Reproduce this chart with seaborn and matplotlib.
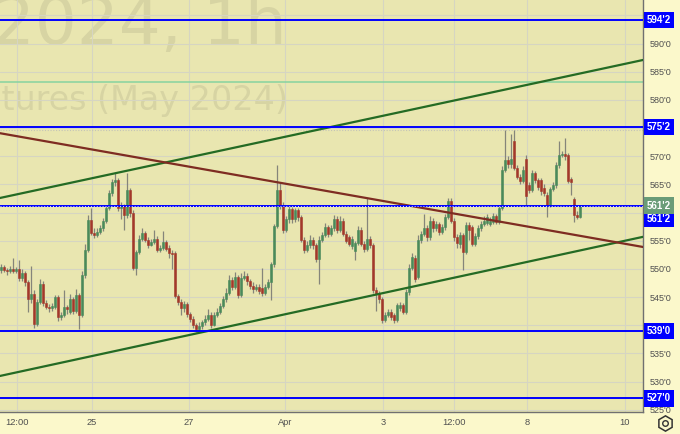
import matplotlib
matplotlib.use('Agg')
import matplotlib.pyplot as plt
from matplotlib.lines import Line2D
import numpy as np
import pandas as pd
import seaborn as sns

# hourly bars, wheat futures May 2024
opens = [549.8, 550.3, 549.9, 549.6, 550.0, 549.7, 550.0, 548.4, 549.3, 547.6,
         544.6, 545.6, 540.2, 544.2, 547.4, 544.0, 543.3, 543.0, 543.2, 545.0,
         541.4, 541.9, 543.2, 542.4, 544.6, 542.6, 545.4, 541.8, 548.9, 553.4,
         558.7, 556.4, 556.0, 556.6, 557.2, 558.6, 560.9, 563.5, 565.4, 565.8,
         560.8, 561.2, 559.6, 564.0, 559.9, 550.2, 553.0, 555.4, 556.4, 555.2,
         554.3, 554.8, 555.4, 553.4, 553.8, 554.8, 553.8, 552.8, 552.8, 545.2,
         544.2, 543.0, 543.8, 542.0, 541.2, 540.0, 539.4, 539.9, 540.5, 541.2,
         541.9, 540.0, 541.9, 542.4, 543.5, 544.6, 545.8, 548.0, 546.8, 548.6,
         545.4, 548.4, 548.8, 547.8, 547.0, 546.4, 546.8, 546.6, 545.8, 546.8,
         547.6, 550.8, 557.6, 564.0, 561.4, 557.0, 558.8, 560.6, 558.8, 560.4,
         559.2, 555.2, 553.4, 554.3, 555.2, 554.2, 551.8, 555.2, 556.0, 557.4,
         556.2, 557.2, 558.8, 557.0, 558.6, 556.2, 555.6, 554.0, 553.2, 554.6,
         557.0, 554.4, 553.6, 555.4, 554.2, 546.3, 545.6, 544.6, 540.9, 541.9,
         542.4, 541.8, 541.0, 543.0, 543.6, 542.4, 545.9, 550.2, 552.0, 548.6,
         555.2, 556.2, 557.2, 555.6, 558.6, 557.2, 558.0, 556.6, 557.4, 559.2,
         562.0, 558.6, 555.6, 554.4, 556.0, 553.0, 557.8, 557.4, 554.4, 555.8,
         557.2, 558.0, 558.2, 558.0, 558.4, 559.4, 558.4, 560.8, 567.6, 569.4,
         568.6, 572.8, 568.0, 566.4, 565.6, 569.6, 564.9, 564.0, 567.0, 565.8,
         565.8, 564.4, 563.2, 561.4, 564.2, 564.9, 568.4, 570.2, 570.4, 570.2,
         566.0, 562.4, 559.6, 559.2]
highs = [550.8, 550.7, 550.2, 550.5, 552.0, 550.4, 551.6, 550.0, 549.6, 548.0,
         550.5, 546.2, 544.6, 548.3, 547.8, 544.5, 543.8, 543.9, 545.4, 545.4,
         542.4, 546.2, 543.6, 545.6, 545.0, 546.4, 545.8, 549.6, 554.4, 559.6,
         560.8, 557.2, 557.2, 557.8, 559.0, 561.4, 564.0, 566.0, 567.0, 566.2,
         561.8, 561.6, 567.0, 564.4, 560.4, 553.4, 556.0, 557.2, 556.8, 555.6,
         555.3, 557.0, 555.8, 554.3, 556.8, 555.2, 554.2, 553.4, 553.2, 545.6,
         544.6, 544.3, 544.2, 542.4, 541.6, 540.4, 540.6, 541.0, 541.8, 542.9,
         542.4, 542.4, 543.0, 544.0, 545.2, 546.6, 549.0, 548.6, 549.4, 549.0,
         549.2, 549.6, 549.2, 548.2, 547.6, 547.4, 547.4, 550.2, 547.4, 548.2,
         551.2, 558.0, 568.4, 565.3, 561.8, 559.4, 561.4, 561.0, 560.8, 560.8,
         559.6, 555.6, 555.0, 556.0, 555.6, 554.6, 555.8, 556.6, 558.2, 557.8,
         557.8, 559.6, 559.4, 559.4, 559.0, 556.8, 556.0, 555.8, 555.0, 557.6,
         557.4, 555.0, 562.6, 555.8, 554.6, 546.8, 546.0, 545.0, 542.4, 542.8,
         542.8, 542.2, 544.0, 544.2, 544.0, 546.4, 550.8, 552.8, 552.4, 556.0,
         556.8, 559.8, 557.8, 559.4, 559.0, 558.6, 558.4, 558.0, 559.8, 562.6,
         562.6, 559.0, 556.2, 556.6, 556.4, 558.4, 558.4, 557.8, 556.4, 557.8,
         558.6, 559.4, 559.8, 559.2, 560.0, 559.8, 561.4, 568.2, 574.7, 570.0,
         574.0, 574.7, 568.4, 566.8, 568.2, 570.2, 565.4, 567.6, 567.4, 566.2,
         566.2, 565.0, 563.6, 564.6, 565.4, 569.0, 572.8, 571.0, 573.2, 570.6,
         566.4, 562.8, 560.2, 561.4]
lows = [549.3, 549.5, 549.0, 549.2, 549.3, 549.2, 547.9, 547.8, 547.0, 542.4,
        544.0, 539.6, 539.8, 543.8, 543.4, 542.8, 542.4, 542.6, 542.8, 540.8,
        541.0, 541.4, 542.0, 542.0, 542.0, 542.2, 539.4, 541.4, 548.4, 553.0,
        556.0, 555.5, 555.6, 556.2, 556.8, 558.2, 560.5, 563.0, 564.8, 560.2,
        558.9, 557.0, 559.0, 559.2, 549.8, 549.0, 552.6, 555.0, 554.8, 553.8,
        554.0, 554.4, 553.0, 553.0, 553.4, 553.2, 552.0, 550.0, 544.8, 543.6,
        541.8, 542.4, 541.4, 540.6, 539.6, 538.8, 539.0, 539.4, 540.0, 540.8,
        539.6, 539.8, 541.4, 542.0, 543.0, 544.2, 545.4, 546.2, 546.4, 544.8,
        545.0, 548.0, 547.2, 546.4, 545.8, 546.0, 545.6, 545.2, 545.4, 546.4,
        544.5, 550.4, 557.2, 560.6, 556.4, 556.6, 558.2, 558.2, 558.4, 558.6,
        554.8, 552.8, 553.0, 553.8, 553.6, 551.2, 547.4, 554.8, 555.6, 555.6,
        555.8, 556.8, 556.4, 556.6, 555.8, 554.6, 554.0, 553.6, 551.6, 554.2,
        554.0, 553.0, 553.2, 553.8, 545.8, 542.6, 544.0, 540.4, 540.5, 541.4,
        541.0, 540.4, 540.6, 542.6, 542.0, 542.0, 545.4, 549.8, 547.6, 548.2,
        554.6, 555.8, 555.0, 555.2, 556.6, 556.8, 556.0, 556.2, 557.0, 558.8,
        558.2, 555.0, 553.8, 553.8, 549.8, 552.6, 555.2, 554.0, 554.0, 555.4,
        556.8, 557.6, 557.8, 557.6, 558.0, 558.0, 558.0, 560.4, 567.2, 568.0,
        568.0, 567.6, 566.0, 565.0, 565.2, 561.4, 563.4, 563.6, 565.2, 564.0,
        563.2, 563.0, 559.2, 561.0, 563.8, 564.4, 568.0, 569.8, 569.4, 565.2,
        563.2, 558.4, 558.8, 559.0]
closes = [550.3, 549.9, 549.6, 550.0, 549.7, 550.0, 548.4, 549.3, 547.6, 544.6,
          545.6, 540.2, 544.2, 547.4, 544.0, 543.3, 543.0, 543.4, 545.0, 541.4,
          541.9, 543.2, 542.8, 544.6, 542.6, 545.4, 541.8, 548.9, 553.4, 558.7,
          556.4, 556.0, 556.6, 557.2, 558.6, 560.9, 563.5, 565.4, 565.8, 560.8,
          561.2, 559.6, 564.0, 559.9, 550.2, 553.0, 555.4, 556.4, 555.2, 554.3,
          554.8, 555.4, 553.4, 553.8, 554.8, 553.6, 552.8, 552.6, 545.2, 544.2,
          543.0, 543.8, 542.0, 541.2, 540.0, 539.4, 539.9, 540.5, 541.2, 541.9,
          540.0, 541.9, 542.4, 543.5, 544.6, 545.8, 548.0, 546.8, 548.6, 545.4,
          548.4, 548.8, 547.8, 547.0, 546.4, 546.8, 546.0, 545.8, 546.8, 547.6,
          550.8, 557.6, 564.0, 561.4, 557.0, 558.8, 560.6, 558.8, 560.4, 559.2,
          555.2, 553.4, 554.3, 555.2, 554.2, 551.8, 555.2, 556.0, 557.4, 556.2,
          557.2, 558.8, 557.0, 558.6, 556.2, 555.0, 554.4, 555.4, 554.6, 557.0,
          554.4, 553.6, 555.4, 554.2, 546.3, 545.6, 544.6, 540.9, 541.9, 542.4,
          541.5, 541.0, 543.6, 543.6, 542.4, 545.9, 550.2, 552.2, 548.2, 555.2,
          556.2, 557.2, 555.6, 558.6, 557.2, 558.0, 556.6, 557.4, 559.2, 562.0,
          558.6, 555.6, 554.6, 556.0, 553.0, 557.8, 557.0, 554.4, 555.8, 557.2,
          558.0, 558.6, 559.2, 558.6, 559.4, 558.4, 560.8, 567.6, 569.4, 568.6,
          569.6, 568.0, 566.4, 565.6, 567.6, 563.0, 564.0, 567.0, 565.8, 564.6,
          563.8, 563.4, 561.4, 564.2, 564.9, 568.4, 570.2, 570.4, 570.0, 565.6,
          565.4, 559.6, 559.2, 561.2]

# drawn levels
level_prices = [594.25, 575.25, 561.25, 539.0, 527.0]
level_labels = ["594'2", "575'2", "561'2", "539'0", "527'0"]
mint_level = 583.25
dotted_level = 574.7
last_price = 561.25
last_label = "561'2"

# trend lines, from left edge to right edge of the chart (bar index, price)
trend_bars = [-0.33, 214.0]
upper_green = [562.6, 587.1]
lower_green = [531.0, 555.7]
brown_line = [574.1, 553.9]

date_ticks = [5.33, 30.33, 62.67, 94.67, 127.33, 151.0, 175.33, 208.0]
date_labels = ['12:00', '25', '27', 'Apr', '3', '12:00', '8', '10']
price_ticks = list(range(525, 600, 5))

df = pd.DataFrame({'open': opens, 'high': highs, 'low': lows, 'close': closes})
df['bar'] = np.arange(len(df))
df['up'] = df['close'] >= df['open']

sns.set_style('white')
plt.rcParams['font.family'] = ['Liberation Sans', 'DejaVu Sans']

BG = '#e9e6b0'
PANEL = '#fbf8cb'
GREEN = '#4a8a5a'
RED = '#a3382a'

fig = plt.figure(figsize=(6.8, 4.34), dpi=100, facecolor=PANEL)
ax = fig.add_axes([0, 22 / 434, 643 / 680, 412 / 434])
ax.set_facecolor(BG)

# watermark (cut by the left edge, as in the original)
ax.text(287 / 643, 1 - 44 / 412, 'ZWK2024, 1h', transform=ax.transAxes,
        ha='right', va='baseline', fontsize=47.5, color='#d7d4a3',
        family='DejaVu Sans', zorder=0.3)
ax.text(288 / 643, 1 - 110 / 412, 'Futures (May 2024)', transform=ax.transAxes,
        ha='right', va='baseline', fontsize=24, color='#d7d4a3',
        family='DejaVu Sans', zorder=0.3)

# candles
ax.vlines(df['bar'], df['low'], df['high'], color='#85857a', lw=0.9, zorder=3)
body_lo = df[['open', 'close']].min(axis=1)
body_h = (df['close'] - df['open']).abs().clip(lower=0.2)
colors = np.where(df['up'], GREEN, RED)
ax.bar(df['bar'], body_h, bottom=body_lo, width=0.72, color=colors,
       edgecolor=colors, linewidth=0.4, zorder=4)

# trend lines
sns.lineplot(x=trend_bars, y=upper_green, ax=ax, color='#246b24', lw=1.6, zorder=5)
sns.lineplot(x=trend_bars, y=lower_green, ax=ax, color='#246b24', lw=1.6, zorder=5)
sns.lineplot(x=trend_bars, y=brown_line, ax=ax, color='#7e2c22', lw=1.6, zorder=5)

# horizontal levels
for p in level_prices:
    ax.axhline(p, color='#0000ff', lw=1.4, zorder=6)
ax.axhline(last_price, color='#e8e8ff', lw=0.7, ls=(0, (1, 2)), zorder=6)
ax.axhline(mint_level, color='#86d3a0', lw=1.1, zorder=2)
ax.axhline(dotted_level, color='#c4c4b8', lw=0.8, ls=(0, (1, 1.5)), zorder=2)

ax.set_xlim(trend_bars[0], trend_bars[1])
ax.set_ylim(524.6, 597.75)

ax.grid(True, color='#d6d5c2', lw=0.8)
ax.set_axisbelow(True)
ax.yaxis.tick_right()
ax.set_yticks(price_ticks)
ax.set_yticklabels([f"{t}'0" for t in price_ticks])
ax.set_xticks(date_ticks)
ax.set_xticklabels(date_labels)
ax.tick_params(axis='y', length=0, pad=4.5, labelsize=6.5, labelcolor='#505050')
ax.tick_params(axis='x', length=0, pad=4.5, labelsize=6.7, labelcolor='#505050')
for side in ['left', 'top']:
    ax.spines[side].set_visible(False)
for side in ['right', 'bottom']:
    ax.spines[side].set_color('#707070')
    ax.spines[side].set_linewidth(1.0)

# price labels on the scale
ytrans = ax.get_yaxis_transform()
for p, lab in zip(level_prices, level_labels):
    shift = -9.5 if p == last_price else 0
    ax.annotate(lab, xy=(647 / 643, p), xycoords=ytrans, xytext=(0, shift),
                textcoords='offset points', ha='left', va='center',
                color='white', fontsize=7, fontweight='bold',
                bbox=dict(boxstyle='square,pad=0.32', fc='#0000ff', ec='none'),
                annotation_clip=False, zorder=10)
ax.annotate(last_label, xy=(647 / 643, last_price), xycoords=ytrans,
            ha='left', va='center', color='white', fontsize=7, fontweight='bold',
            bbox=dict(boxstyle='square,pad=0.32', fc='#6a9c78', ec='none'),
            annotation_clip=False, zorder=11)

# settings icon in the corner
gx, gy = 665 / 680, 1 - 423 / 434
fig.add_artist(Line2D([gx], [gy], transform=fig.transFigure, marker='h', ms=11,
                      mfc='none', mec='#333333', mew=1.1))
fig.add_artist(Line2D([gx], [gy], transform=fig.transFigure, marker='o', ms=4,
                      mfc='none', mec='#333333', mew=1.0))

fig.savefig('out.png', dpi=100, facecolor=PANEL)
